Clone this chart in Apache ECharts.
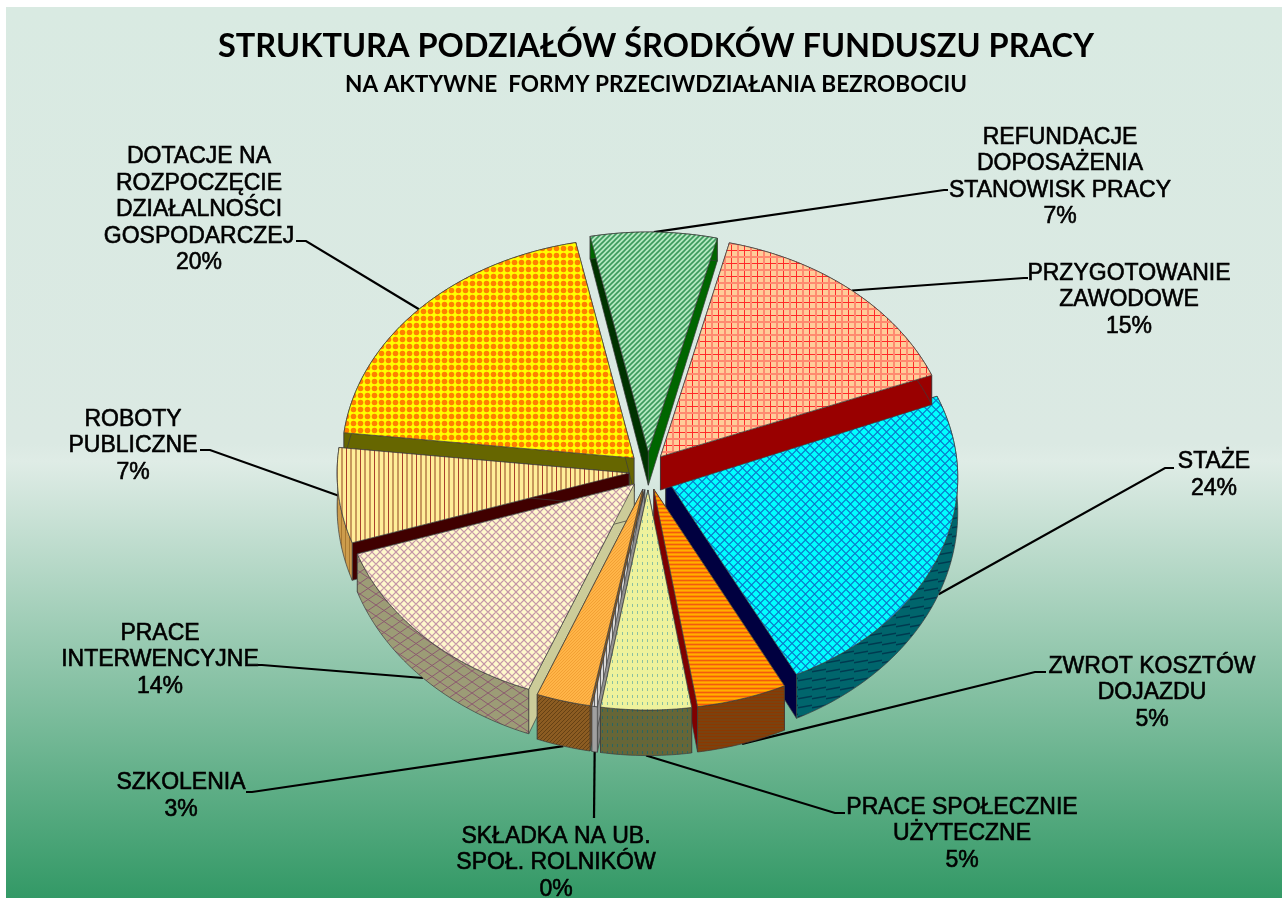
<!DOCTYPE html>
<html>
<head>
<meta charset="utf-8">
<title>Struktura podziałów środków Funduszu Pracy</title>
<script src="https://cdn.jsdelivr.net/npm/echarts@6/dist/echarts.min.js"></script>
<style>
    html, body { margin: 0; padding: 0; background: #fff; }
    #chart { width: 1288px; height: 900px; }
</style>
</head>
<body>
<div id="chart"></div>
<script>
// dane wykresu
var categories = [
    'REFUNDACJE\nDOPOSAŻENIA\nSTANOWISK PRACY',
    'PRZYGOTOWANIE\nZAWODOWE',
    'STAŻE',
    'ZWROT KOSZTÓW\nDOJAZDU',
    'PRACE SPOŁECZNIE\nUŻYTECZNE',
    'SKŁADKA NA UB.\nSPOŁ. ROLNIKÓW',
    'SZKOLENIA',
    'PRACE\nINTERWENCYJNE',
    'ROBOTY\nPUBLICZNE',
    'DOTACJE NA\nROZPOCZĘCIE\nDZIAŁALNOŚCI\nGOSPODARCZEJ'
];
var values = [7, 15.2, 23.7, 5, 5, 0.3, 3, 14, 7, 20];

// polozenie opisow i linii
var labelCenters = [[1060, 177], [1129, 300], [1214, 475], [1152, 693], [962, 834], [556, 863], [181, 796], [160, 660], [133, 446], [199, 210]];
var lineElbows = [[944, 190], [1024, 278], [1165, 468], [1035, 672], [835, 813], [594, 818], [252, 792], [262, 665], [210, 450], [306, 241]];
var lineEnds = [[948, 190], [1028, 278], [1174, 468], [1046, 672], [845, 813], [594, 818], [246, 792], [258, 665], [200, 450], [296, 241]];
// kolejnosc rysowania wycinkow, od tylu do przodu
var drawOrder = [9, 2, 8, 3, 7, 6, 5, 4, 1, 0];

var centerX = 648, centerY = 471;
var radiusX = 292, radiusY = 220;
var explode = 19;
var startAngle = -11.5;

// kafelek wzoru wypelnienia
function tile(w, h, bg, draw) {
    var c = document.createElement('canvas');
    c.width = w;
    c.height = h;
    var ctx = c.getContext('2d');
    ctx.fillStyle = bg;
    ctx.fillRect(0, 0, w, h);
    draw(ctx);
    return { image: c, repeat: 'repeat' };
}
function diag(color, size, width) {
    return function (ctx) {
        ctx.strokeStyle = color;
        ctx.lineWidth = width;
        ctx.beginPath();
        ctx.moveTo(-1, size + 1); ctx.lineTo(size + 1, -1);
        ctx.moveTo(-1, 1); ctx.lineTo(1, -1);
        ctx.moveTo(size - 1, size + 1); ctx.lineTo(size + 1, size - 1);
        ctx.stroke();
    };
}
function lattice(color, w, h, width) {
    return function (ctx) {
        ctx.strokeStyle = color;
        ctx.lineWidth = width;
        ctx.beginPath();
        ctx.moveTo(0, h / 2); ctx.lineTo(w / 2, 0); ctx.lineTo(w, h / 2); ctx.lineTo(w / 2, h); ctx.closePath();
        ctx.stroke();
    };
}
function dots(color, w, h, r) {
    return function (ctx) {
        ctx.fillStyle = color;
        ctx.beginPath();
        ctx.arc(w / 2, h / 2, r, 0, Math.PI * 2);
        ctx.fill();
    };
}

var faceFills = [
    tile(5, 5, '#b4e8c0', diag('#3c9a5c', 5, 1.6)),
    tile(13, 13, '#ffcc99', function (ctx) {
        ctx.fillStyle = '#ff2a2a';
        ctx.fillRect(3, 0, 1, 13);
        ctx.fillRect(0, 3, 13, 1);
        ctx.fillStyle = '#ff8a70';
        ctx.fillRect(9, 0, 2, 13);
        ctx.fillRect(0, 9, 13, 2);
    }),
    tile(9, 9, '#00ffff', lattice('#0a78c8', 9, 9, 1.1)),
    tile(4, 4, '#ff9000', function (ctx) {
        ctx.fillStyle = '#f25a10';
        ctx.fillRect(0, 0, 4, 1);
        ctx.fillStyle = '#ffb000';
        ctx.fillRect(0, 2, 4, 1);
    }),
    tile(5, 7, '#eef29c', function (ctx) {
        ctx.fillStyle = '#8cc0a0';
        ctx.fillRect(2, 2, 1, 3);
    }),
    tile(3, 3, '#d8d8d8', function (ctx) {
        ctx.fillStyle = '#606060';
        ctx.fillRect(0, 0, 1, 3);
    }),
    tile(3, 3, '#ffb548', diag('#f09a30', 3, 0.8)),
    tile(8, 8, '#fff8cc', lattice('#c496a6', 8, 8, 1.2)),
    tile(14, 5, '#ffee99', function (ctx) {
        ctx.fillStyle = '#c8985c';
        ctx.fillRect(0, 0, 2, 5);
        ctx.fillRect(5, 0, 2, 5);
        ctx.fillStyle = '#a8402c';
        ctx.fillRect(10, 0, 1, 5);
    }),
    tile(7, 7, '#ffff00', dots('#ff8000', 7, 7, 2.8))
];
var rimFills = [
    '#006600',
    '#990000',
    tile(14, 9, '#00656c', function (ctx) {
        ctx.strokeStyle = '#003a50';
        ctx.lineWidth = 1.4;
        ctx.beginPath();
        ctx.moveTo(-1, 6); ctx.lineTo(15, 3);
        ctx.stroke();
    }),
    tile(3, 3, '#7a4210', function (ctx) {
        ctx.fillStyle = '#8c3800';
        ctx.fillRect(0, 1, 3, 1);
    }),
    tile(5, 7, '#666638', function (ctx) {
        ctx.fillStyle = '#2c6660';
        ctx.fillRect(2, 2, 1, 3);
    }),
    '#a0a0a0',
    tile(4, 4, '#8c5c22', diag('#5c3a10', 4, 0.8)),
    tile(16, 11, '#9c9c76', lattice('#8c5a70', 16, 11, 1)),
    tile(4, 4, '#cc9c4c', function (ctx) {
        ctx.fillStyle = '#a87830';
        ctx.fillRect(1, 0, 1, 4);
    }),
    '#666600'
];
// sciany boczne wycinka: przy kacie poczatkowym i koncowym
var startWallColors = ['#003300', '#990000', '#003040', '#800000', '#555530', '#808080', '#8c5c22', '#cccc99', '#400000', '#666600'];
var endWallColors = ['#006600', '#990000', '#000040', '#800000', '#555530', '#909090', '#8c5c22', '#cccc99', '#400000', '#666600'];

var total = values.reduce(function (a, b) { return a + b; }, 0);

function depthAt(y) {
    return 23 + (y - 240) * 0.048;
}
function sliceAngles(index) {
    var before = 0;
    for (var i = 0; i < index; i++) {
        before += values[i];
    }
    return [startAngle + before / total * 360, startAngle + (before + values[index]) / total * 360];
}
function rimPoint(apex, deg) {
    var a = deg * Math.PI / 180;
    return [apex[0] + radiusX * Math.sin(a), apex[1] - radiusY * Math.cos(a)];
}
function lower(p) {
    return [p[0], p[1] + depthAt(p[1])];
}

function renderSlice(params, api) {
    var i = params.dataIndex;
    var angles = sliceAngles(i);
    var mid = (angles[0] + angles[1]) / 2 * Math.PI / 180;
    var apex = [centerX + explode * Math.sin(mid), centerY - explode * Math.cos(mid)];
    var z = drawOrder.indexOf(i) * 10 + 10;
    var arc = [];
    for (var d = angles[0]; d < angles[1]; d += 1) {
        arc.push(rimPoint(apex, d));
    }
    arc.push(rimPoint(apex, angles[1]));
    var first = arc[0], last = arc[arc.length - 1];

    var children = [];
    function polygon(points, fill, order) {
        children.push({
            type: 'polygon',
            z2: z + order,
            shape: { points: points },
            style: { fill: fill, stroke: '#3c3c3c', lineWidth: 0.7 }
        });
    }
    polygon([apex, first, lower(first), lower(apex)], startWallColors[i], 0);
    polygon([apex, last, lower(last), lower(apex)], endWallColors[i], 1);
    polygon(arc.concat(arc.map(lower).reverse()), rimFills[i], 2);
    polygon([apex].concat(arc), faceFills[i], 3);

    // linia odniesienia i opis
    var deg = (angles[0] + angles[1]) / 2;
    var anchor = rimPoint(apex, deg);
    if (deg > 90 && deg < 255) {
        anchor = lower(anchor);
    }
    children.push({
        type: 'polyline',
        z2: 1,
        shape: { points: [anchor, lineElbows[i], lineEnds[i]] },
        style: { fill: null, stroke: '#000', lineWidth: 2.2 }
    });
    children.push({
        type: 'text',
        z2: 200,
        style: {
            x: labelCenters[i][0],
            y: labelCenters[i][1],
            text: categories[i] + '\n' + Math.round(api.value(0) / total * 100) + '%',
            fill: '#000',
            align: 'center',
            verticalAlign: 'middle',
            fontFamily: '"Liberation Sans", Arial, sans-serif',
            fontSize: 23,
            lineHeight: 26.5,
            stroke: '#000',
            lineWidth: 0.6
        }
    });
    return { type: 'group', children: children };
}

var myChart = echarts.init(document.getElementById('chart'), null, { renderer: 'canvas' });
myChart.setOption({
    animation: false,
    backgroundColor: '#fff',
    title: [{
        text: 'STRUKTURA PODZIAŁÓW ŚRODKÓW FUNDUSZU PRACY',
        left: 651,
        top: 25,
        textAlign: 'center',
        textStyle: { fontFamily: 'Lato', fontWeight: 'bold', fontSize: 32.5, color: '#000' }
    }, {
        text: 'NA AKTYWNE  FORMY PRZECIWDZIAŁANIA BEZROBOCIU',
        left: 651,
        top: 68,
        textAlign: 'center',
        textStyle: { fontFamily: 'Lato', fontWeight: 'bold', fontSize: 22.6, color: '#000' }
    }],
    graphic: [{
        type: 'rect',
        z: -10,
        silent: true,
        shape: { x: 6, y: 7, width: 1276, height: 891 },
        style: {
            fill: new echarts.graphic.LinearGradient(0, 0, 0, 1, [
                { offset: 0, color: '#d9eae2' },
                { offset: 0.49, color: '#dbe9e3' },
                { offset: 0.51, color: '#dfece6' },
                { offset: 1, color: '#339966' }
            ])
        }
    }],
    series: [{
        type: 'custom',
        coordinateSystem: 'none',
        silent: true,
        data: values,
        renderItem: renderSlice
    }]
});
</script>
</body>
</html>
